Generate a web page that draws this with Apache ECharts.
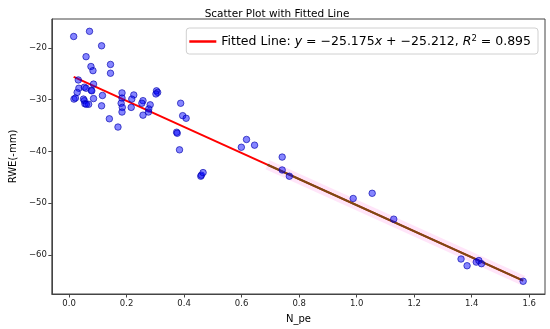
<!DOCTYPE html>
<html>
<head>
<meta charset="utf-8">
<script src="https://cdn.jsdelivr.net/npm/echarts@6/dist/echarts.min.js"></script>
<style>html,body{margin:0;padding:0;background:#fff}#c{width:550px;height:329px}</style>
</head>
<body>
<div id="c"></div>
<script>
// ---- data ----
const npe = [0.016,0.071,0.113,0.059,0.076,0.083,0.144,0.144,0.032,0.085,0.034,0.053,0.059,0.028,0.077,0.079,0.116,0.085,0.017,0.022,0.050,0.053,0.055,0.068,0.060,0.113,0.184,0.184,0.181,0.185,0.184,0.225,0.218,0.216,0.257,0.253,0.282,0.277,0.276,0.257,0.304,0.308,0.302,0.140,0.170,0.388,0.395,0.407,0.374,0.376,0.384,0.458,0.460,0.466,0.599,0.617,0.645,0.741,0.741,0.766,0.988,1.054,1.129,1.363,1.384,1.416,1.425,1.434,1.579];
const rwe = [-17.8,-16.8,-19.6,-21.7,-23.6,-24.4,-23.2,-24.9,-26.2,-27.0,-27.8,-27.6,-27.8,-28.6,-28.2,-28.3,-29.2,-29.8,-29.9,-29.7,-29.9,-30.2,-30.8,-30.9,-30.9,-31.2,-28.7,-29.7,-30.7,-31.5,-32.4,-29.1,-29.9,-31.5,-30.2,-30.7,-31.0,-31.8,-32.4,-33.0,-28.3,-28.6,-28.9,-33.7,-35.3,-30.7,-33.1,-33.6,-36.3,-36.5,-39.7,-44.8,-44.6,-44.1,-39.2,-37.7,-38.8,-41.1,-43.6,-44.8,-49.1,-48.1,-53.1,-60.8,-62.1,-61.4,-61.1,-61.7,-65.1];
const slope = -25.175;
const intercept = -25.212;
const r2 = 0.895;
const xTicks = [0.0,0.2,0.4,0.6,0.8,1.0,1.2,1.4,1.6];
const yTicks = [-60,-50,-40,-30,-20];
const overlayStartX = 0.69;

const xMin = Math.min(...npe), xMax = Math.max(...npe);
const fitLine = [[xMin, slope*xMin+intercept],[xMax, slope*xMax+intercept]];
const overlay = [[overlayStartX, slope*overlayStartX+intercept],[xMax, slope*xMax+intercept]];
const pts = npe.map((x,i)=>[x, rwe[i]]);
const minus = s => String(s).replace('-', '\u2212');

const chart = echarts.init(document.getElementById('c'), null, {renderer:'canvas'});
const font = 'DejaVu Sans';
chart.setOption({
  animation:false,
  backgroundColor:'#fff',
  title:{text:'Scatter Plot with Fitted Line', left:272, top:4, textAlign:'center',
    textStyle:{fontFamily:font, fontSize:10.5, fontWeight:'normal', color:'#000'}},
  grid:{left:40, right:5, top:19, bottom:31, show:true, borderColor:'#444', borderWidth:1},
  legend:{
    data:['Fitted Line'], right:12, top:28, orient:'horizontal',
    icon:'rect', itemWidth:27, itemHeight:2.5,
    backgroundColor:'#fff', borderColor:'#d0d0d0', borderWidth:1, borderRadius:3,
    padding:[6,7,6,3], itemGap:5,
    formatter: () => 'Fitted Line: {i|y} = ' + minus(slope.toFixed(3)) + '{i|x} + ' + minus(intercept.toFixed(3)) + ', {i|R}{s|2} = ' + r2.toFixed(3),
    textStyle:{fontFamily:font, fontSize:12.5, color:'#000',
      rich:{i:{fontFamily:font, fontSize:12.5, fontStyle:'italic', color:'#000'},
            s:{fontFamily:font, fontSize:8.5, verticalAlign:'top', padding:[0,0,6,0], color:'#000'}}}
  },
  xAxis:{type:'value', min:-0.06, max:1.655, name:'N_pe', nameLocation:'middle', nameGap:20,
    nameTextStyle:{fontFamily:font, fontSize:10, color:'#000'},
    axisLine:{show:true, onZero:false, lineStyle:{color:'#444'}},
    axisTick:{show:true, length:3.5, customValues:xTicks, lineStyle:{color:'#444'}},
    axisLabel:{customValues:xTicks, fontFamily:font, fontSize:8.5, color:'#222', margin:5,
      formatter:v=>minus(v.toFixed(1))},
    splitLine:{show:false}},
  yAxis:{type:'value', min:-67.56, max:-14.42, name:'RWE(-mm)', nameLocation:'middle', nameGap:30,
    nameTextStyle:{fontFamily:font, fontSize:10, color:'#000'},
    axisLine:{show:true, onZero:false, lineStyle:{color:'#444'}},
    axisTick:{show:true, length:3.5, customValues:yTicks, lineStyle:{color:'#444'}},
    axisLabel:{customValues:yTicks, fontFamily:font, fontSize:8.5, color:'#222', margin:5,
      formatter:v=>minus(Math.round(v))},
    splitLine:{show:false}},
  series:[
    {name:'band', type:'line', data:overlay, symbol:'none', silent:true, z:1,
      lineStyle:{color:'rgba(255,150,230,0.25)', width:10}},
    {name:'Fitted Line', type:'line', data:fitLine, symbol:'none', z:2,
      lineStyle:{color:'#ff0000', width:2}, itemStyle:{color:'#ff0000'}},
    {name:'overlay', type:'line', data:overlay, symbol:'none', z:3,
      lineStyle:{color:'#7a4a14', width:2}},
    {name:'data', type:'scatter', data:pts, symbolSize:6.5, z:4,
      itemStyle:{color:'rgba(0,0,255,0.6)', borderColor:'rgba(0,0,170,0.8)', borderWidth:1}}
  ]
});
</script>
</body>
</html>
